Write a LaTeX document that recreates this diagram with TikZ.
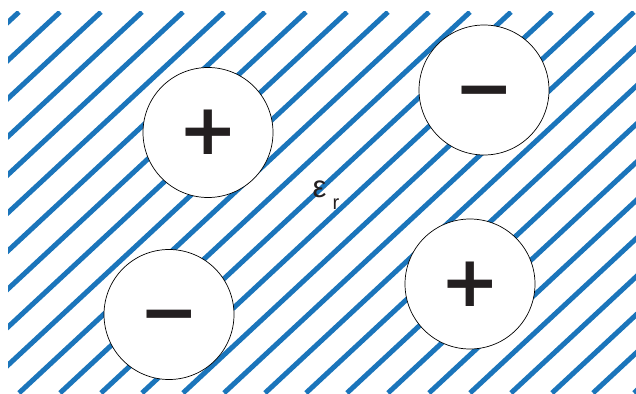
\documentclass[tikz,border=0pt]{standalone}
\usepackage{fontspec}
\setmainfont{DejaVu Sans}
\newfontfamily\epsfont{Liberation Sans}
\definecolor{hatchblue}{RGB}{27,117,187}
\definecolor{signgray}{RGB}{35,31,32}
\tikzset{
  hatchline/.style={draw=hatchblue, line width=5pt},
  charge/.style={circle, draw=black, line width=0.7pt, fill=white, minimum size=130pt, inner sep=0pt},
  signtext/.style={text=signgray, font=\fontsize{71}{71}\selectfont\bfseries, inner sep=0pt},
  epstext/.style={text=signgray, inner sep=0pt, font=\epsfont\fontsize{31}{31}\selectfont}
}
\begin{document}
\begin{tikzpicture}[x=1pt,y=-1pt]
\useasboundingbox (0,0) rectangle (636,393);
\begin{scope}
\clip (8,12) rectangle (636,393);
\foreach \k in {-2,...,26} {
  \draw[hatchline] ({19+41*\k},12) -- ({19+41*\k-410},393);
}
\end{scope}
\node[charge] (c1) at (208,132.5) {};
\node[charge] (c2) at (484,90) {};
\node[charge] (c3) at (169,314.5) {};
\node[charge] (c4) at (470,284) {};
\node[signtext] (s1) at (c1) {+};
\node[signtext] (s2) at (c2) {\vphantom{+}−};
\node[signtext] (s3) at (c3) {\vphantom{+}−};
\node[signtext] (s4) at (c4) {+};
\node[epstext] (eps) at (319.5,189.5) {ε};
\node[epstext, font=\epsfont\fontsize{20}{20}\selectfont] (sub) at (336,204) {r};
\end{tikzpicture}
\end{document}
